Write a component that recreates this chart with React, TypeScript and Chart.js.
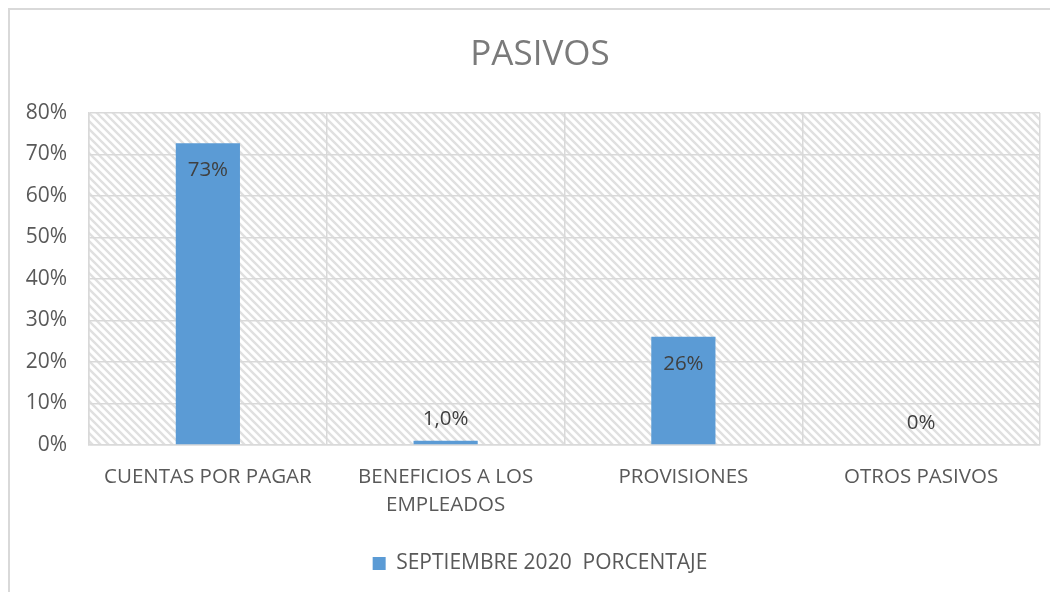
import React, { useEffect, useRef } from "react";
import { Chart, registerables } from "chart.js";

Chart.register(...registerables);

const categories: (string | string[])[] = [
  "CUENTAS POR PAGAR",
  ["BENEFICIOS A LOS", "EMPLEADOS"],
  "PROVISIONES",
  "OTROS PASIVOS",
];
const seriesName = "SEPTIEMBRE 2020  PORCENTAJE";
const values = [0.727, 0.01, 0.261, 0.0];
const valueLabels = ["73%", "1,0%", "26%", "0%"];
const yMin = 0;
const yMax = 0.8;
const yStep = 0.1;

const FONT = "'Open Sans', 'Liberation Sans', sans-serif";
const BLUE = "#5B9BD5";
const TEXT = "#595959";
const GRID = "#d9d9d9";

function makeHatch(): CanvasPattern | string {
  const s = 8;
  const c = document.createElement("canvas");
  c.width = s;
  c.height = s;
  const g = c.getContext("2d");
  if (!g) return "#fff";
  g.fillStyle = "#ffffff";
  g.fillRect(0, 0, s, s);
  g.strokeStyle = "#e0e0e0";
  g.lineWidth = 2.4;
  g.beginPath();
  g.moveTo(-2, -2);
  g.lineTo(s + 2, s + 2);
  g.moveTo(s - 2, -2);
  g.lineTo(s + 2, 2);
  g.moveTo(-2, s - 2);
  g.lineTo(2, s + 2);
  g.stroke();
  return g.createPattern(c, "repeat") || "#fff";
}

const hatchPlugin = {
  id: "hatchBg",
  beforeDraw(chart: any) {
    const { ctx, chartArea } = chart;
    if (!chartArea) return;
    ctx.save();
    ctx.fillStyle = makeHatch();
    ctx.fillRect(
      chartArea.left,
      chartArea.top,
      chartArea.right - chartArea.left,
      chartArea.bottom - chartArea.top
    );
    ctx.restore();
  },
};

const labelPlugin = {
  id: "barLabels",
  afterDatasetsDraw(chart: any) {
    const { ctx } = chart;
    const meta = chart.getDatasetMeta(0);
    ctx.save();
    ctx.font = `20.5px ${FONT}`;
    ctx.fillStyle = "#404040";
    ctx.textAlign = "center";
    ctx.textBaseline = "middle";
    meta.data.forEach((bar: any, i: number) => {
      const v = values[i];
      const inside = v > 0.1;
      const y = inside ? bar.y + 27 : bar.y - 22;
      ctx.fillText(valueLabels[i], bar.x, y);
    });
    ctx.restore();
  },
};

export default function App() {
  const ref = useRef<HTMLCanvasElement>(null);
  useEffect(() => {
    if (!ref.current) return;
    const chart = new Chart(ref.current, {
      type: "bar",
      data: {
        labels: categories,
        datasets: [
          {
            label: seriesName,
            data: values,
            backgroundColor: BLUE,
            borderWidth: 0,
            categoryPercentage: 1,
            barPercentage: 0.27,
          },
        ],
      },
      options: {
        animation: false,
        responsive: true,
        maintainAspectRatio: false,
        layout: { padding: { left: 0, right: 10, top: 0, bottom: 8 } },
        plugins: {
          title: {
            display: true,
            text: "PASIVOS",
            color: "#7a7a7a",
            font: { family: FONT, size: 35, weight: "normal" as any, lineHeight: 1.2 },
            padding: { top: 24, bottom: 37 },
          },
          legend: {
            display: true,
            position: "bottom",
            labels: {
              color: TEXT,
              font: { family: FONT, size: 21 },
              boxWidth: 13,
              boxHeight: 13,
              padding: 33,
            },
          },
          tooltip: { enabled: false },
        },
        scales: {
          x: {
            grid: { color: GRID, lineWidth: 1.5, drawTicks: false, offset: true },
            border: { color: GRID, width: 1.5 },
            ticks: {
              color: TEXT,
              font: { family: FONT, size: 20.5, lineHeight: 1.37 },
              padding: 18,
              maxRotation: 0,
              autoSkip: false,
            },
            afterFit(scale: any) {
              scale.height = 75;
            },
          },
          y: {
            min: yMin,
            max: yMax,
            grid: { color: GRID, lineWidth: 1.5, drawTicks: false },
            border: { color: GRID, width: 1.5 },
            ticks: {
              stepSize: yStep,
              color: TEXT,
              font: { family: FONT, size: 21 },
              padding: 22,
              callback: (v: any) => `${Math.round(Number(v) * 100)}%`,
            },
            afterFit(scale: any) {
              scale.width = 79;
            },
          },
          spacer: {
            type: "linear",
            position: "right",
            min: 0,
            max: 1,
            display: true,
            grid: { display: false, drawTicks: false },
            border: { display: false },
            ticks: { display: false },
            afterFit(scale: any) {
              scale.width = 30;
            },
          },
        },
      },
      plugins: [hatchPlugin, labelPlugin],
    });
    return () => chart.destroy();
  }, []);

  return (
    <div
      style={{
        border: "2px solid #d9d9d9",
        width: 1100,
        height: 640,
        boxSizing: "border-box",
        background: "#fff",
      }}
    >
      <div style={{ position: "relative", width: 1070, height: 582 }}>
        <canvas ref={ref} />
      </div>
    </div>
  );
}
